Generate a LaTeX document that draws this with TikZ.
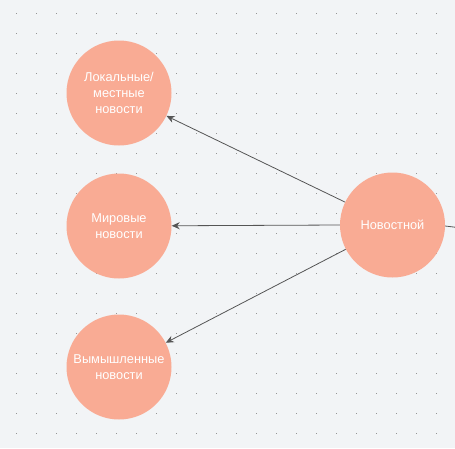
\documentclass[tikz,border=0pt]{standalone}
\usepackage{fontspec}
\setmainfont{Liberation Sans}
\usetikzlibrary{arrows.meta}
\definecolor{bgc}{HTML}{F2F4F6}
\definecolor{circc}{HTML}{F9AB94}
\definecolor{linec}{HTML}{555555}
\definecolor{dotc}{HTML}{959595}
\begin{document}
\begin{tikzpicture}[x=1pt,y=-1pt,
  bubble/.style={circle,fill=circc,minimum size=105pt,inner sep=0pt,text=white,
    font=\fontsize{12.8}{16}\selectfont,align=center},
  conn/.style={draw=linec,line width=0.8pt,-{Stealth[length=8pt,width=7pt]}}]
\fill[bgc] (0,0) rectangle (455,448);
\useasboundingbox (0,0) rectangle (455,448);
\foreach \i in {0,...,22}{\foreach \j in {0,...,21}{
  \fill[dotc] (16+20*\i,13+20*\j) rectangle ++(1,1);}}
\node[bubble] (loc) at (119,93) {Локальные/\\местные\\новости};
\node[bubble] (mir) at (119,226) {Мировые\\новости};
\node[bubble] (vym) at (119,367) {Вымышленные\\новости};
\node[bubble] (nov) at (392.5,225) {Новостной};
\coordinate (out) at (470,229);
\begin{scope}
\clip (0,0) rectangle (455,448);
\draw[draw=linec,line width=0.8pt] (nov.east) ++(0,1) -- (out);
\end{scope}
\draw[conn] (nov) -- (loc);
\draw[conn] (nov.west) -- (mir);
\draw[conn] (nov) -- (vym);
\end{tikzpicture}
\end{document}
